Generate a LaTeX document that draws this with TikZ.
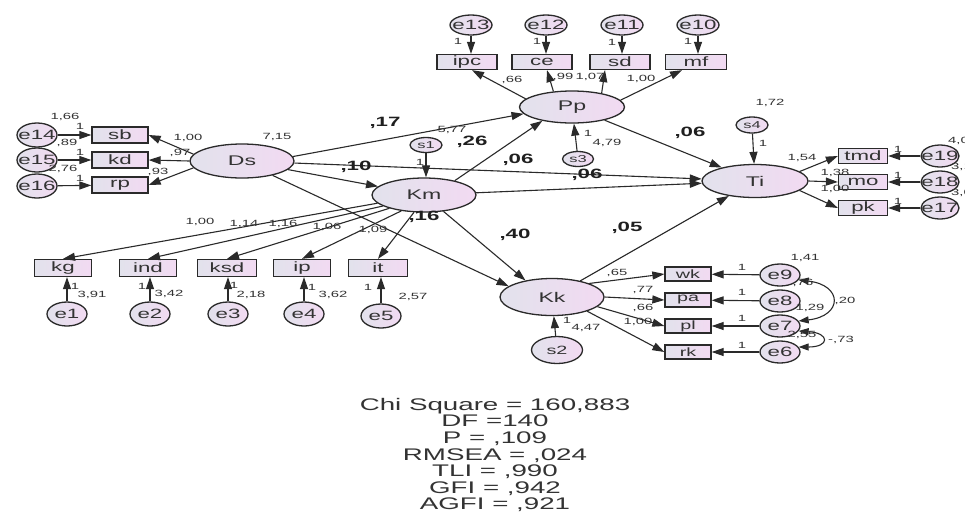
\documentclass[tikz,border=0pt]{standalone}
\usepackage{fontspec}
\setmainfont{Liberation Sans}[FakeStretch=1.65]
\usetikzlibrary{arrows.meta,shapes.geometric}
\definecolor{ln}{HTML}{2A2A2A}
\definecolor{tx}{HTML}{333333}
\definecolor{fa}{HTML}{E2E2EC}
\definecolor{fb}{HTML}{F2DAF2}
\begin{document}
\begin{tikzpicture}[x=1pt,y=-1pt,
 base/.style={draw=ln, line width=1.3pt, left color=fa, right color=fb, inner sep=0pt, text=tx},
 lat/.style={base, ellipse, minimum width=104pt, minimum height=34pt, font=\fontsize{14}{14}\selectfont},
 obs/.style={base, rectangle, minimum width=56pt, minimum height=16pt, font=\fontsize{13.5}{13.5}\selectfont},
 obk/.style={obs, minimum width=46pt, minimum height=14pt, font=\fontsize{12}{12}\selectfont},
 etx/.style={text=tx, inner sep=0pt, font=\fontsize{13.5}{13.5}\selectfont},
 stx/.style={text=tx, inner sep=0pt, font=\fontsize{10}{10}\selectfont},
 err/.style={base, ellipse, minimum width=40pt, minimum height=24pt, label={[etx]center:#1}},
 dist/.style={base, ellipse, minimum width=32pt, minimum height=15pt, label={[stx]center:#1}},
 lb/.style={text=tx, inner sep=0pt, font=\fontsize{9}{9}\selectfont},
 bl/.style={text=black!88, inner sep=0pt, font=\bfseries\fontsize{13.5}{13.5}\selectfont},
 ar/.style={draw=ln, line width=1.1pt, -{Triangle[length=12pt,width=8pt]}},
 cov/.style={draw=ln, line width=1.1pt, {Triangle[length=10pt,width=7pt]}-{Triangle[length=10pt,width=7pt]}},
]
\clip (0,0) rectangle (965,523);
\fill[white] (0,0) rectangle (965,523);

% latent variables
\node[lat] (Ds) at (242,161) {Ds};
\node[lat] (Km) at (424,195) {Km};
\node[lat, minimum width=105pt, minimum height=32pt] (Pp) at (572,107) {Pp};
\node[lat, minimum width=106pt, minimum height=33pt] (Ti) at (755,181) {Ti};
\node[lat, minimum height=37pt] (Kk) at (552,297) {Kk};

% observed: Ds
\node[obs] (sb) at (120,135) {sb};
\node[obs] (kd) at (120,160) {kd};
\node[obs] (rp) at (120,185) {rp};
% observed: Km
\node[obs, minimum width=57pt, minimum height=17pt] (kg) at (63,268) {kg};
\node[obs, minimum width=57pt, minimum height=17pt] (ind) at (148,268) {ind};
\node[obs, minimum width=59pt, minimum height=17pt] (ksd) at (227,268) {ksd};
\node[obs, minimum width=57pt, minimum height=17pt] (ip) at (302,268) {ip};
\node[obs, minimum width=59pt, minimum height=17pt] (it) at (378,268) {it};
% observed: Pp
\node[obs, minimum width=60pt, minimum height=15pt] (ipc) at (467,62) {ipc};
\node[obs, minimum width=60pt, minimum height=15pt] (ce) at (542,62) {ce};
\node[obs, minimum width=60pt, minimum height=15pt] (sd) at (620,62) {sd};
\node[obs, minimum width=61pt, minimum height=15pt] (mf) at (696,62) {mf};
% observed: Ti
\node[obs, minimum width=49pt, minimum height=15pt] (tmd) at (863,156) {tmd};
\node[obs, minimum width=49pt, minimum height=15pt] (mo) at (863,182) {mo};
\node[obs, minimum width=49pt, minimum height=15pt] (pk) at (863,208) {pk};
% observed: Kk
\node[obk] (wk) at (688,274) {wk};
\node[obk] (pa) at (688,300) {pa};
\node[obk] (pl) at (688,326) {pl};
\node[obk] (rk) at (688,352) {rk};

% error terms
\node[err=e14] (e14) at (37,135) {};
\node[err=e15] (e15) at (37,160) {};
\node[err=e16] (e16) at (37,186) {};
\node[err=e1] (e1) at (67,314) {};
\node[err=e2] (e2) at (150,314) {};
\node[err=e3] (e3) at (228,314) {};
\node[err=e4] (e4) at (304,314) {};
\node[err=e5] (e5) at (381,316) {};
\node[err=e13, minimum width=42pt, minimum height=20pt] (e13) at (471,25) {};
\node[err=e12, minimum width=42pt, minimum height=20pt] (e12) at (546,25) {};
\node[err=e11, minimum width=42pt, minimum height=20pt] (e11) at (622,25) {};
\node[err=e10, minimum width=42pt, minimum height=20pt] (e10) at (698,25) {};
\node[err=e19, minimum width=38pt, minimum height=22pt] (e19) at (940,156) {};
\node[err=e18, minimum width=38pt, minimum height=22pt] (e18) at (940,182) {};
\node[err=e17, minimum width=38pt, minimum height=22pt] (e17) at (940,208) {};
\node[err=e9, minimum height=22pt] (e9) at (780,275) {};
\node[err=e8, minimum height=22pt] (e8) at (780,301) {};
\node[err=e7, minimum height=22pt] (e7) at (780,326) {};
\node[err=e6, minimum height=22pt] (e6) at (780,352) {};

% disturbances
\node[dist=s1] (s1) at (426,145) {};
\node[dist=s3, minimum width=31pt] (s3) at (578,159) {};
\node[dist=s4, minimum height=16pt] (s4) at (752,125) {};
\node[base, ellipse, minimum width=51pt, minimum height=27pt,
      label={[etx, font=\fontsize{12}{12}\selectfont]center:s2}] (s2) at (557,350) {};

% error -> indicator arrows
\draw[ar] (e14) -- (sb);
\draw[ar] (e15) -- (kd);
\draw[ar] (e16) -- (rp);
\draw[ar] (e1) -- (e1 |- kg.south);
\draw[ar] (e2) -- (e2 |- ind.south);
\draw[ar] (e3) -- (e3 |- ksd.south);
\draw[ar] (e4) -- (e4 |- ip.south);
\draw[ar] (e5) -- (e5 |- it.south);
\draw[ar] (e13) -- (e13 |- ipc.north);
\draw[ar] (e12) -- (e12 |- ce.north);
\draw[ar] (e11) -- (e11 |- sd.north);
\draw[ar] (e10) -- (e10 |- mf.north);
\draw[ar] (e19) -- (tmd);
\draw[ar] (e18) -- (mo);
\draw[ar] (e17) -- (pk);
\draw[ar] (e9) -- (wk);
\draw[ar] (e8) -- (pa);
\draw[ar] (e7) -- (pl);
\draw[ar] (e6) -- (rk);

% disturbance arrows
\draw[ar] (s1) -- (s1 |- Km.north);
\draw[ar] (s3) -- (Pp);
\draw[ar] (s4) -- (Ti);
\draw[ar] (s2) -- (Kk);

% loadings
\draw[ar] (Ds.172) -- (sb.east);
\draw[ar] (Ds.180) -- (kd.east);
\draw[ar] (Ds.188) -- (rp.east);
\draw[ar] (Km.190) -- (kg.north);
\draw[ar] (Km.195) -- (ind.north);
\draw[ar] (Km.201) -- (ksd.north);
\draw[ar] (Km.215) -- (ip.north);
\draw[ar] (Km.240) -- (it.north);
\draw[ar] (Pp.170) -- ([xshift=5pt]ipc.south);
\draw[ar] (Pp.140) -- ([xshift=5pt]ce.south);
\draw[ar] (Pp.25) -- ([xshift=-15pt]sd.south);
\draw[ar] (Pp.8) -- ([xshift=-14pt]mf.south);
\draw[ar] (Ti.12) -- (tmd.west);
\draw[ar] (Ti.0) -- (mo.west);
\draw[ar] (Ti.-12) -- (pk.west);
\draw[ar] (Kk.20) -- (wk.west);
\draw[ar] (Kk.0) -- (pa.west);
\draw[ar] (Kk.-12) -- (pl.west);
\draw[ar] (Kk.-22) -- (rk.west);

% structural paths
\draw[ar] (Ds.5) -- (Pp.188);
\draw[ar] (Ds) -- (Ti);
\draw[ar] (Ds) -- (Km);
\draw[ar] (Ds) -- (Kk.166);
\draw[ar] (Km.25) -- (Pp.205);
\draw[ar] (Km) -- (Ti);
\draw[ar] (Km) -- (Kk.148);
\draw[ar] (Pp) -- (Ti);
\draw[ar] (Kk) -- (Ti);

% covariances
\draw[cov] (e9.-15) .. controls (843,285) and (843,316) .. (e7.15);
\draw[cov] (e7.-15) .. controls (830,333) and (830,347) .. (e6.15);

% small labels: Ds block
\node[lb] (v14) at (65,117) {1,66};
\node[lb] (v15) at (67,143) {,89};
\node[lb] (v16) at (63,169) {2,76};
\node[lb] (o14) at (80,126) {1};
\node[lb] (o15) at (80,152) {1};
\node[lb] (o16) at (80,178) {1};
\node[lb] (lsb) at (188,138) {1,00};
\node[lb] (lkd) at (180,153) {,97};
\node[lb] (lrp) at (158,172) {,93};
\node[lb] (vDs) at (277,137) {7,15};
% Km block
\node[lb] (lkg) at (200,222) {1,00};
\node[lb] (lind) at (244,224) {1,14};
\node[lb] (lksd) at (283,224) {1,16};
\node[lb] (lip) at (327,227) {1,06};
\node[lb] (lit) at (373,230) {1,09};
\node[lb] (o1) at (75,286) {1};
\node[lb] (v1) at (92,295) {3,91};
\node[lb] (o2) at (142,286) {1};
\node[lb] (v2) at (169,294) {3,42};
\node[lb] (o3) at (234,285) {1};
\node[lb] (v3) at (251,295) {2,18};
\node[lb] (o4) at (312,287) {1};
\node[lb] (v4) at (333,295) {3,62};
\node[lb] (o5) at (368,287) {1};
\node[lb] (v5) at (413,297) {2,57};
% Pp block
\node[lb] (o13) at (458,41) {1};
\node[lb] (o12) at (537,41) {1};
\node[lb] (o11) at (612,42) {1};
\node[lb] (o10) at (688,41) {1};
\node[lb] (lipc) at (512,80) {,66};
\node[lb] (lce) at (563,77) {,99};
\node[lb] (lsd) at (590,77) {1,07};
\node[lb] (lmf) at (641,79) {1,00};
% structural
\node[lb] (v5b) at (452,130) {5,77};
\node[lb] (os1) at (420,162) {1};
\node[lb] (os3) at (588,133) {1};
\node[lb] (vs3) at (607,143) {4,79};
\node[bl] (p17) at (385,123) {,17};
\node[bl] (p26) at (472,142) {,26};
\node[bl] (p10) at (356,167) {,10};
\node[bl] (p06a) at (518,160) {,06};
\node[bl] (p06b) at (690,133) {,06};
\node[bl] (p06c) at (587,175) {,06};
\node[bl] (p16) at (424,217) {,16};
\node[bl] (p40) at (515,235) {,40};
\node[bl] (p05) at (627,228) {,05};
% Ti block
\node[lb] (vs4) at (770,103) {1,72};
\node[lb] (os4) at (763,143) {1};
\node[lb] (ltmd) at (802,158) {1,54};
\node[lb] (lmo) at (835,173) {1,38};
\node[lb] (lpk) at (835,189) {1,00};
\node[lb] (o19) at (898,149) {1};
\node[lb] (o18) at (898,175) {1};
\node[lb] (o17) at (898,201) {1};
\node[lb, anchor=west] (v19) at (948,141) {4,0};
\node[lb, anchor=west] (v18) at (951,167) {3,1};
\node[lb, anchor=west] (v17) at (951,193) {3,0};
% Kk block
\node[lb] (lwk) at (617,273) {,65};
\node[lb] (lpa) at (643,290) {,77};
\node[lb] (lpl) at (643,308) {,66};
\node[lb] (lrk) at (638,322) {1,00};
\node[lb] (o9) at (742,267) {1};
\node[lb] (o8) at (742,292) {1};
\node[lb] (o7) at (742,318) {1};
\node[lb] (o6) at (742,345) {1};
\node[lb] (v9) at (805,258) {1,41};
\node[lb] (v8) at (803,283) {,76};
\node[lb] (v7) at (810,308) {1,29};
\node[lb] (v6) at (802,335) {2,55};
\node[lb] (c97) at (845,301) {,20};
\node[lb] (c76) at (841,340) {-,73};
\node[lb] (os2) at (567,320) {1};
\node[lb] (vs2) at (586,328) {4,47};

% fit statistics
\node[text=tx, inner sep=0pt, align=center, font=\fontsize{16.8}{16.6}\selectfont] (fit) at (495,455)
 {Chi Square = 160,883\\DF =140\\P = ,109\\RMSEA = ,024\\TLI = ,990\\GFI = ,942\\AGFI = ,921};
\end{tikzpicture}
\end{document}
